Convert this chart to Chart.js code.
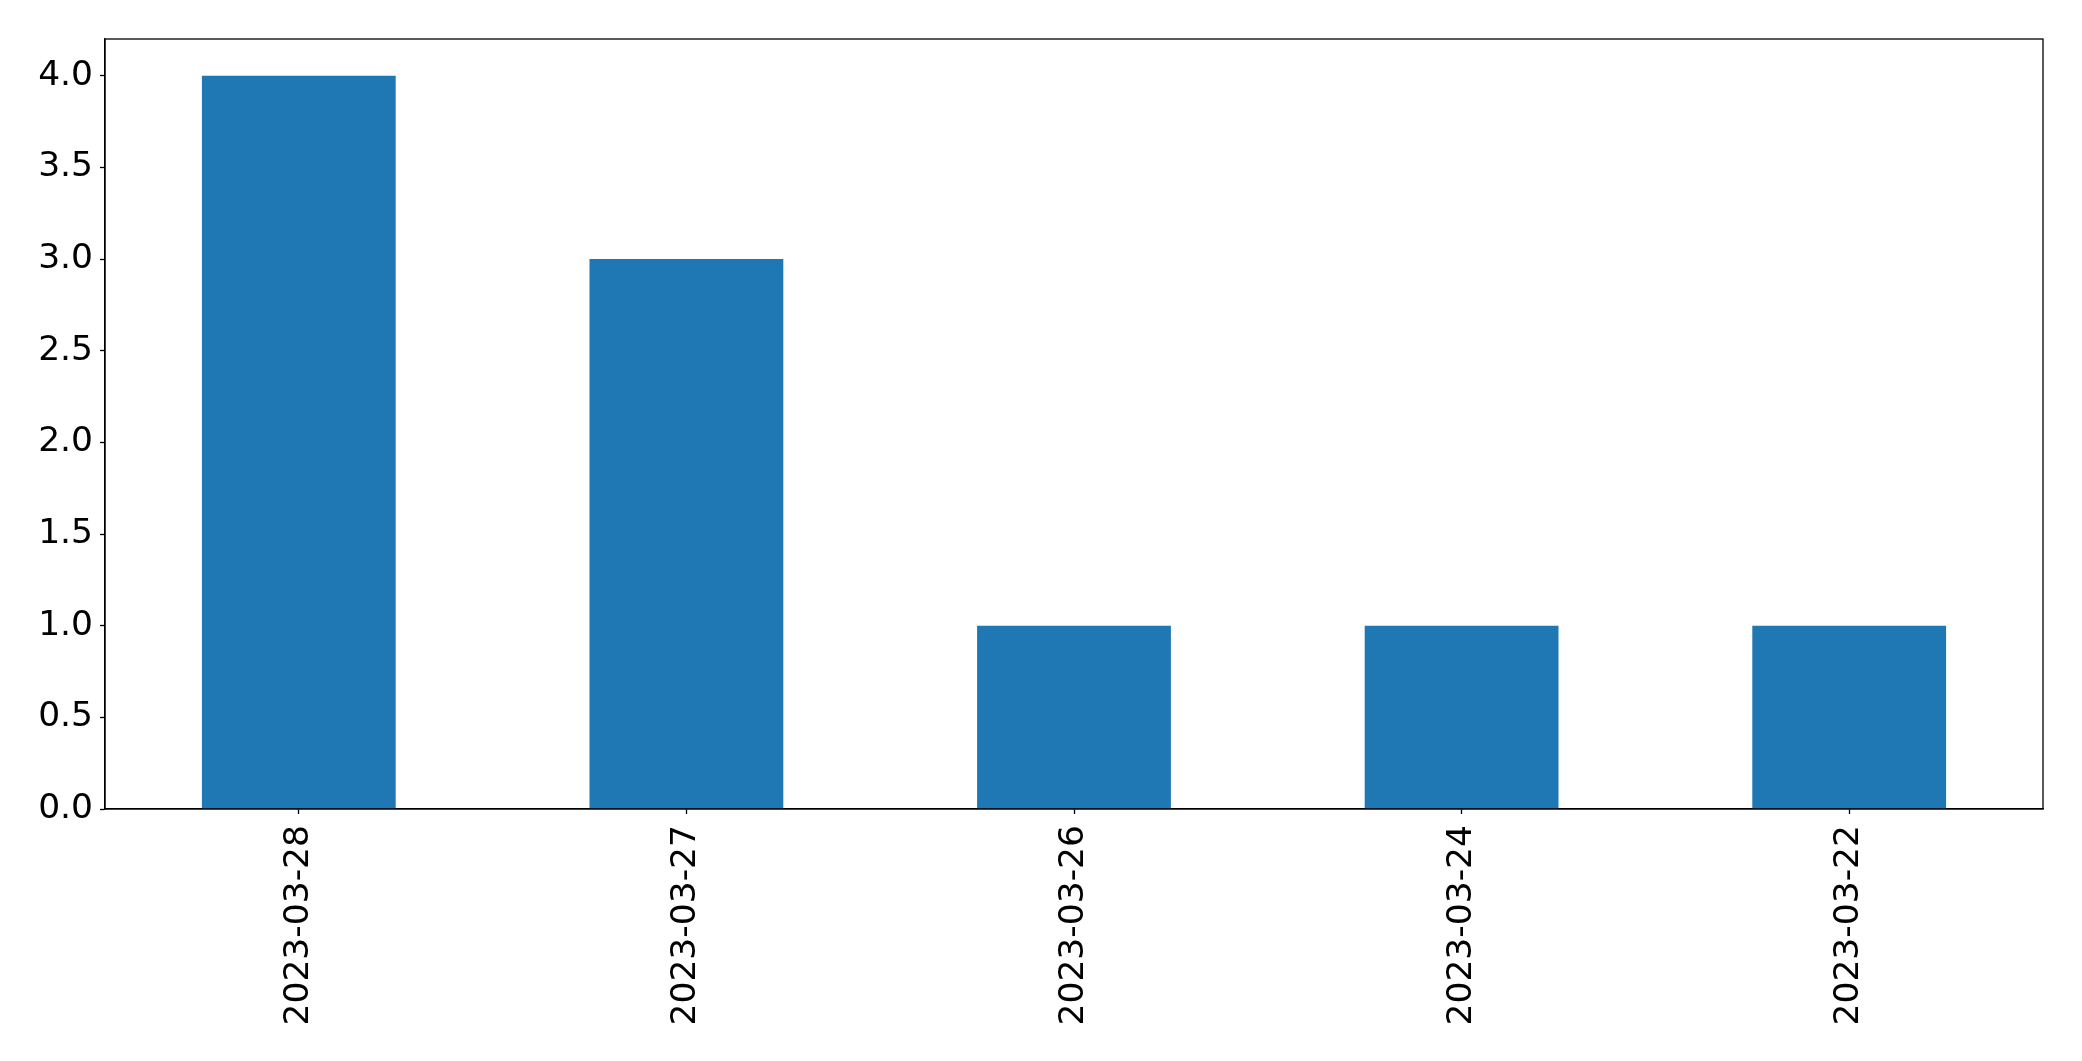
<!DOCTYPE html>
<html>
<head>
<meta charset="utf-8">
<script src="https://cdn.jsdelivr.net/npm/chart.js@4"></script>
<style>
html, body { margin: 0; padding: 0; background: #ffffff; }
#wrap { width: 2082px; height: 1061px; position: relative; }
</style>
</head>
<body>
<div id="wrap"><canvas id="c" width="2082" height="1061"></canvas></div>
<script>
const categories = ["2023-03-28", "2023-03-27", "2023-03-26", "2023-03-24", "2023-03-22"];
const counts = [4, 3, 1, 1, 1];
const yTicks = [0, 0.5, 1.0, 1.5, 2.0, 2.5, 3.0, 3.5, 4.0];
const yMax = 4.2;

const frame = {
  id: 'frame',
  afterDraw(chart) {
    const a = chart.chartArea, ctx = chart.ctx;
    ctx.save();
    ctx.strokeStyle = '#000';
    ctx.lineWidth = 1.3;
    ctx.strokeRect(a.left, a.top, a.right - a.left, a.bottom - a.top);
    ctx.restore();
  }
};

const font = { family: 'DejaVu Sans', size: 34.5 };

new Chart(document.getElementById('c'), {
  type: 'bar',
  data: {
    labels: categories,
    datasets: [{
      data: counts,
      backgroundColor: '#1f77b4',
      borderWidth: 0,
      categoryPercentage: 1.0,
      barPercentage: 0.5
    }]
  },
  options: {
    responsive: false,
    animation: false,
    events: [],
    layout: { padding: { top: 39, right: 39, left: 0, bottom: 0 } },
    plugins: { legend: { display: false }, tooltip: { enabled: false } },
    scales: {
      x: {
        offset: true,
        grid: { display: true, drawOnChartArea: false, drawTicks: true, tickLength: 5, tickColor: '#000', tickWidth: 1.3, offset: false },
        border: { display: true, color: '#000', width: 1.3 },
        ticks: { color: '#000', font: font, maxRotation: 90, minRotation: 90, padding: 11, autoSkip: false },
        afterFit(s) { s.height = 1061 - 809; }
      },
      y: {
        min: 0,
        max: yMax,
        grid: { display: true, drawOnChartArea: false, drawTicks: true, tickLength: 5, tickColor: '#000', tickWidth: 1.3 },
        border: { display: true, color: '#000', width: 1.3 },
        ticks: { color: '#000', font: font, padding: 7, callback: v => Number(v).toFixed(1) },
        afterBuildTicks(s) { s.ticks = yTicks.map(v => ({ value: v })); },
        afterFit(s) { s.width = 105; }
      }
    }
  },
  plugins: [frame]
});
</script>
</body>
</html>
